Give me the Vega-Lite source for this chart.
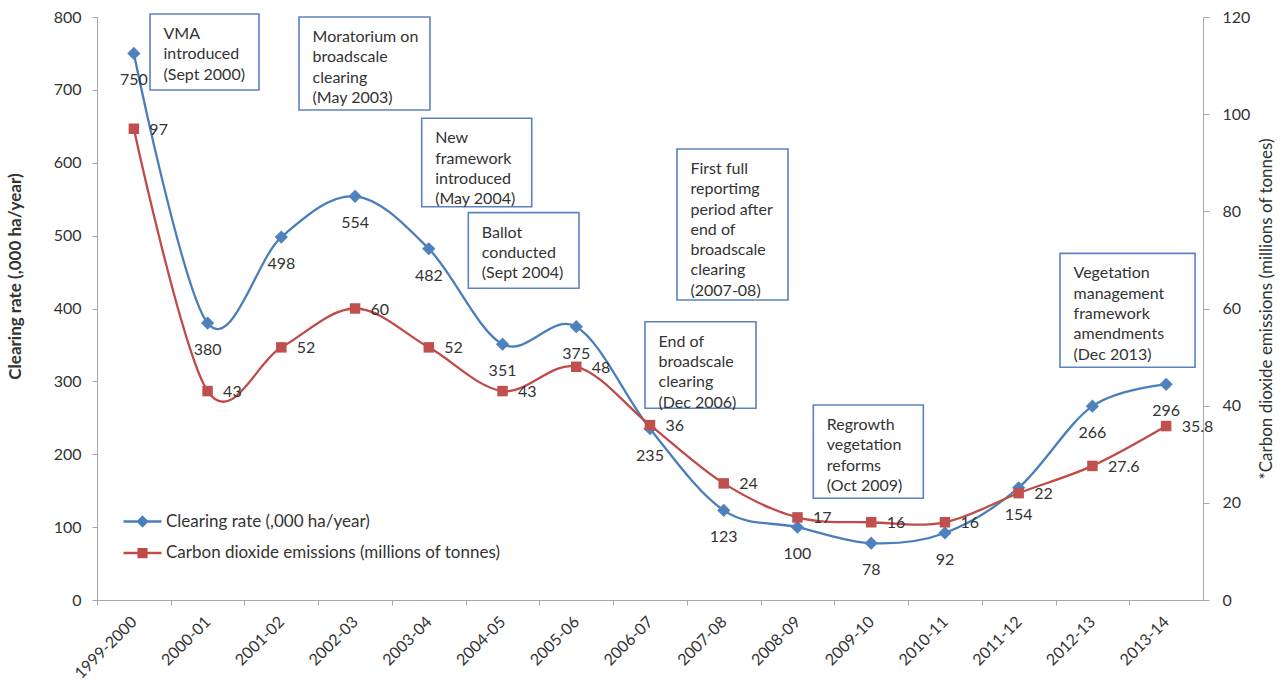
{
  "$schema": "https://vega.github.io/schema/vega-lite/v6.json",
  "width": 1106,
  "height": 583,
  "autosize": {"type": "none"},
  "padding": {"left": 97, "top": 17, "right": 82, "bottom": 82},
  "background": "white",
  "config": {
    "view": {"stroke": null},
    "font": "Lato",
    "text": {"font": "Lato"}
  },
  "datasets": {
    "main": [
      {"i": 0, "period": "1999-2000", "clearing": 750, "co2": 97},
      {"i": 1, "period": "2000-01", "clearing": 380, "co2": 43},
      {"i": 2, "period": "2001-02", "clearing": 498, "co2": 52},
      {"i": 3, "period": "2002-03", "clearing": 554, "co2": 60},
      {"i": 4, "period": "2003-04", "clearing": 482, "co2": 52},
      {"i": 5, "period": "2004-05", "clearing": 351, "co2": 43},
      {"i": 6, "period": "2005-06", "clearing": 375, "co2": 48},
      {"i": 7, "period": "2006-07", "clearing": 235, "co2": 36},
      {"i": 8, "period": "2007-08", "clearing": 123, "co2": 24},
      {"i": 9, "period": "2008-09", "clearing": 100, "co2": 17},
      {"i": 10, "period": "2009-10", "clearing": 78, "co2": 16},
      {"i": 11, "period": "2010-11", "clearing": 92, "co2": 16},
      {"i": 12, "period": "2011-12", "clearing": 154, "co2": 22},
      {"i": 13, "period": "2012-13", "clearing": 266, "co2": 27.6},
      {"i": 14, "period": "2013-14", "clearing": 296, "co2": 35.8}
    ],
    "notes": [
      {"text": "VMA\nintroduced\n(Sept 2000)", "x1": 0.219, "x2": 1.697, "ytop": 804.1, "ybot": 699.8},
      {"text": "Moratorium on\nbroadscale\nclearing\n(May 2003)", "x1": 2.24, "x2": 4.016, "ytop": 800.0, "ybot": 672.4},
      {"text": "New\nframework\nintroduced\n(May 2004)", "x1": 3.904, "x2": 5.396, "ytop": 661.0, "ybot": 539.7},
      {"text": "Ballot\nconducted\n(Sept 2004)", "x1": 4.536, "x2": 6.037, "ytop": 531.5, "ybot": 427.7},
      {"text": "First full\nreportimg\nperiod after\nend of\nbroadscale\nclearing\n(2007-08)", "x1": 7.366, "x2": 8.872, "ytop": 618.9, "ybot": 411.7},
      {"text": "End of\nbroadscale\nclearing\n(Dec 2006)", "x1": 6.932, "x2": 8.438, "ytop": 381.9, "ybot": 263.1},
      {"text": "Regrowth\nvegetation\nreforms\n(Oct 2009)", "x1": 9.215, "x2": 10.707, "ytop": 267.6, "ybot": 139.6},
      {"text": "Vegetation\nmanagement\nframework\namendments\n(Dec 2013)", "x1": 12.561, "x2": 14.392, "ytop": 475.7, "ybot": 319.3}
    ]
  },
  "layer": [
    {
      "layer": [
        {
          "data": {"name": "notes"},
          "mark": {"type": "rect", "fill": "white", "stroke": "#5B82C2", "strokeWidth": 1.6},
          "encoding": {
            "x": {"field": "x1", "type": "quantitative", "title": null, "scale": {"domain": [-0.5, 14.5], "nice": false, "zero": false}},
            "x2": {"field": "x2"},
            "y": {"field": "ytop", "type": "quantitative", "title": "Clearing rate (,000 ha/year)", "scale": {"domain": [0, 800], "nice": false, "zero": true}},
            "y2": {"field": "ybot"}
          }
        },
        {
          "data": {"name": "notes"},
          "mark": {"type": "text", "align": "left", "baseline": "top", "dx": 13.5, "dy": 12, "fontSize": 16, "lineHeight": 20.3, "lineBreak": "\n", "fill": "#333333"},
          "encoding": {
            "x": {"field": "x1", "type": "quantitative", "title": null, "scale": {"domain": [-0.5, 14.5], "nice": false, "zero": false}},
            "y": {"field": "ytop", "type": "quantitative", "title": "Clearing rate (,000 ha/year)", "scale": {"domain": [0, 800], "nice": false, "zero": true}},
            "text": {"field": "text", "type": "nominal"}
          }
        },
        {
          "data": {"name": "main"},
          "mark": {"type": "line", "interpolate": "cardinal", "strokeWidth": 2.3},
          "encoding": {
            "x": {
              "field": "i", "type": "quantitative", "title": null,
              "scale": {"domain": [-0.5, 14.5], "nice": false, "zero": false},
              "axis": {
                "values": [0, 1, 2, 3, 4, 5, 6, 7, 8, 9, 10, 11, 12, 13, 14],
                "labelExpr": "['1999-2000','2000-01','2001-02','2002-03','2003-04','2004-05','2005-06','2006-07','2007-08','2008-09','2009-10','2010-11','2011-12','2012-13','2013-14'][datum.value]",
                "tickOffset": -36.87,
                "labelOffset": 36.87,
                "labelAngle": -45,
                "labelAlign": "right",
                "labelBaseline": "middle",
                "labelPadding": 14,
                "tickSize": 5,
                "grid": false,
                "domainColor": "#a6a6a6",
                "tickColor": "#a6a6a6",
                "labelFontSize": 16,
                "labelColor": "#333333",
                "labelOverlap": false,
                "labelBound": false,
                "labelFlush": false
              }
            },
            "y": {
              "field": "clearing", "type": "quantitative", "title": "Clearing rate (,000 ha/year)",
              "scale": {"domain": [0, 800], "nice": false, "zero": true},
              "axis": {
                "orient": "left",
                "values": [0, 100, 200, 300, 400, 500, 600, 700, 800],
                "tickSize": 5,
                "labelPadding": 11,
                "grid": false,
                "domainColor": "#a6a6a6",
                "tickColor": "#a6a6a6",
                "labelFontSize": 16,
                "labelColor": "#333333",
                "titleFontSize": 17,
                "titleFontWeight": "bold",
                "titleColor": "#333333",
                "titleAngle": 270,
                "titleAlign": "center",
                "titleBaseline": "middle",
                "titleX": -82,
                "titleY": 259
              }
            },
            "color": {
              "datum": "Clearing rate (,000 ha/year)",
              "type": "nominal",
              "scale": {"domain": ["Clearing rate (,000 ha/year)", "Carbon dioxide emissions (millions of tonnes)"], "range": ["#4A7EBB", "#BE4B48"]},
              "legend": {
                "orient": "none",
                "legendX": 25,
                "legendY": 489,
                "title": null,
                "symbolSize": 1444,
                "labelFontSize": 17,
                "labelColor": "#333333",
                "labelLimit": 0,
                "labelOffset": 3,
                "clipHeight": 31,
                "rowPadding": 0.6,
                "encode": {
                  "symbols": {
                    "update": {
                      "shape": {"signal": "datum.value === 'Clearing rate (,000 ha/year)' ? 'M-1,0H1M0,-0.23L0.23,0L0,0.23L-0.23,0Z' : 'M-1,0H1M-0.2,-0.2H0.2V0.2H-0.2Z'"},
                      "fill": {"signal": "scale('color', datum.value)"},
                      "stroke": {"signal": "scale('color', datum.value)"},
                      "strokeWidth": {"value": 2.5},
                      "opacity": {"value": 1},
                      "fillOpacity": {"value": 1},
                      "strokeOpacity": {"value": 1}
                    }
                  }
                }
              }
            }
          }
        },
        {
          "data": {"name": "main"},
          "mark": {"type": "point", "shape": "diamond", "filled": true, "size": 175, "fill": "#4F81BD", "opacity": 1},
          "encoding": {
            "x": {"field": "i", "type": "quantitative", "title": null, "scale": {"domain": [-0.5, 14.5], "nice": false, "zero": false}},
            "y": {"field": "clearing", "type": "quantitative", "title": "Clearing rate (,000 ha/year)", "scale": {"domain": [0, 800], "nice": false, "zero": true}}
          }
        },
        {
          "data": {"name": "main"},
          "mark": {"type": "text", "align": "center", "baseline": "middle", "dy": 27, "fontSize": 16, "fill": "#333333"},
          "encoding": {
            "x": {"field": "i", "type": "quantitative", "title": null, "scale": {"domain": [-0.5, 14.5], "nice": false, "zero": false}},
            "y": {"field": "clearing", "type": "quantitative", "title": "Clearing rate (,000 ha/year)", "scale": {"domain": [0, 800], "nice": false, "zero": true}},
            "text": {"field": "clearing", "type": "nominal"}
          }
        }
      ]
    },
    {
      "layer": [
        {
          "data": {"name": "main"},
          "mark": {"type": "line", "interpolate": "cardinal", "strokeWidth": 2.3},
          "encoding": {
            "x": {"field": "i", "type": "quantitative", "title": null, "scale": {"domain": [-0.5, 14.5], "nice": false, "zero": false}},
            "y": {
              "field": "co2", "type": "quantitative", "title": "*Carbon dioxide emissions (millions of tonnes)",
              "scale": {"domain": [0, 120], "nice": false, "zero": true},
              "axis": {
                "orient": "right",
                "values": [0, 20, 40, 60, 80, 100, 120],
                "tickSize": 6,
                "labelPadding": 13,
                "grid": false,
                "domainColor": "#a6a6a6",
                "tickColor": "#a6a6a6",
                "labelFontSize": 16,
                "labelColor": "#333333",
                "titleFontSize": 17,
                "titleFontWeight": "normal",
                "titleColor": "#333333",
                "titleAngle": 270,
                "titleAlign": "center",
                "titleBaseline": "middle",
                "titleX": 63,
                "titleY": 291.5
              }
            },
            "color": {"datum": "Carbon dioxide emissions (millions of tonnes)", "type": "nominal"}
          }
        },
        {
          "data": {"name": "main"},
          "mark": {"type": "point", "shape": "square", "filled": true, "size": 110, "fill": "#C0504D", "opacity": 1},
          "encoding": {
            "x": {"field": "i", "type": "quantitative", "title": null, "scale": {"domain": [-0.5, 14.5], "nice": false, "zero": false}},
            "y": {"field": "co2", "type": "quantitative", "title": "*Carbon dioxide emissions (millions of tonnes)", "scale": {"domain": [0, 120], "nice": false, "zero": true}}
          }
        },
        {
          "data": {"name": "main"},
          "mark": {"type": "text", "align": "left", "baseline": "middle", "dx": 15.5, "dy": 1, "fontSize": 16, "fill": "#333333"},
          "encoding": {
            "x": {"field": "i", "type": "quantitative", "title": null, "scale": {"domain": [-0.5, 14.5], "nice": false, "zero": false}},
            "y": {"field": "co2", "type": "quantitative", "title": "*Carbon dioxide emissions (millions of tonnes)", "scale": {"domain": [0, 120], "nice": false, "zero": true}},
            "text": {"field": "co2", "type": "nominal"}
          }
        }
      ]
    }
  ],
  "resolve": {"scale": {"y": "independent"}}
}
